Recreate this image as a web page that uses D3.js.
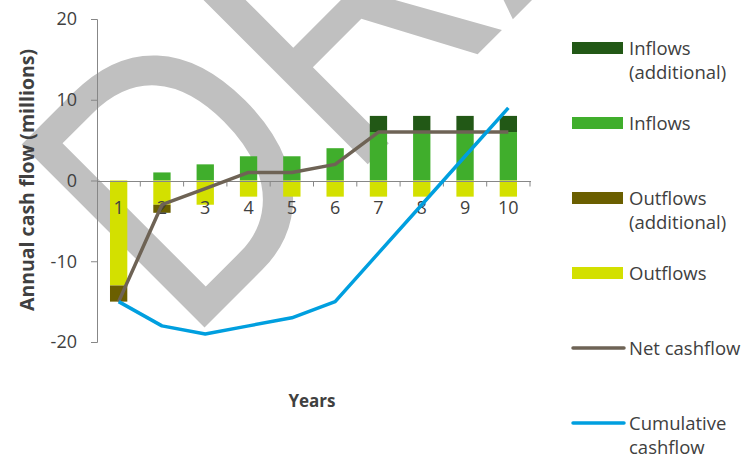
<!DOCTYPE html>
<html>
<head>
<meta charset="utf-8">
<script src="https://cdn.jsdelivr.net/npm/d3@7"></script>
<style>
  html, body { margin: 0; padding: 0; background: #fff; }
  svg { display: block; }
</style>
</head>
<body>
<div id="chart"></div>
<script>
// ---- Data ----
const years = [1, 2, 3, 4, 5, 6, 7, 8, 9, 10];
const inflows = [0, 1, 2, 3, 3, 4, 6, 6, 6, 6];
const inflowsAdditional = [0, 0, 0, 0, 0, 0, 2, 2, 2, 2];
const outflows = [-13, -3, -3, -2, -2, -2, -2, -2, -2, -2];
const outflowsAdditional = [-2, -1, 0, 0, 0, 0, 0, 0, 0, 0];
const netCashflow = [-15, -3, -1, 1, 1, 2, 6, 6, 6, 6];
const cumulativeCashflow = [-15, -18, -19, -18, -17, -15, -9, -3, 3, 9];
const yTicks = [-20, -10, 0, 10, 20];

const colors = {
  inflowsAdditional: "#225816",
  inflows: "#40ae2c",
  outflowsAdditional: "#6b5f00",
  outflows: "#d3e000",
  net: "#6e6355",
  cumulative: "#009fdf"
};

const W = 744, H = 458;
const svg = d3.select("#chart").append("svg").attr("width", W).attr("height", H);
const FONT = "'Open Sans', sans-serif";
const textColor = "#404040";
const axisColor = "#878787";

// watermark
svg.append("text")
  .attr("transform", "translate(186,346) rotate(-45) scale(0.85,1)")
  .attr("font-family", "'Liberation Sans', Arial, sans-serif")
  .attr("font-size", 376)
  .attr("fill", "#c0c0c0")
  .text("DRAFT");

const x = d3.scaleBand().domain(years).range([97, 530]).paddingInner(0.6).paddingOuter(0.3);
const y = d3.scaleLinear().domain([-20, 20]).range([342, 19]);

// stacked data
const table = years.map((yr, i) => ({
  year: yr,
  inflows: inflows[i],
  inflowsAdditional: inflowsAdditional[i],
  outflows: outflows[i],
  outflowsAdditional: outflowsAdditional[i]
}));
const keys = ["inflows", "inflowsAdditional", "outflows", "outflowsAdditional"];
const stacked = d3.stack().keys(keys).offset(d3.stackOffsetDiverging)(table);

const barsG = svg.append("g");
stacked.forEach(s => {
  barsG.append("g").attr("fill", colors[s.key])
    .selectAll("rect").data(s.filter(d => d[1] - d[0] !== 0)).join("rect")
    .attr("x", d => x(d.data.year))
    .attr("width", x.bandwidth())
    .attr("y", d => y(Math.max(d[0], d[1])))
    .attr("height", d => Math.abs(y(d[0]) - y(d[1])));
});

// Y axis
const yAxis = d3.axisLeft(y).tickValues(yTicks).tickSize(6).tickPadding(14).tickFormat(d3.format("d"));
const yg = svg.append("g").attr("transform", "translate(97,0)").call(yAxis);
yg.select(".domain").attr("stroke", axisColor).attr("d", "M-6,19.5H0.5V342.5H-6");
yg.selectAll(".tick line").attr("stroke", axisColor);
yg.selectAll(".tick text").attr("fill", textColor).attr("font-size", 18).attr("font-family", FONT)
  .text(d => d < 0 ? "-" + Math.abs(d) : d);

// X axis (at zero)
const xg = svg.append("g").attr("transform", `translate(0,${Math.round(y(0)) + 0.5})`);
xg.append("line").attr("x1", 97).attr("x2", 531).attr("stroke", axisColor);
const step = x.step();
xg.selectAll("line.tk").data(years).join("line").attr("class", "tk")
  .attr("x1", (d, i) => 97 + step * (i + 1)).attr("x2", (d, i) => 97 + step * (i + 1))
  .attr("y1", 0).attr("y2", 5).attr("stroke", axisColor);
xg.selectAll("text").data(years).join("text")
  .attr("x", d => x(d) + x.bandwidth() / 2)
  .attr("y", 32)
  .attr("text-anchor", "middle")
  .attr("font-family", FONT).attr("font-size", 18).attr("fill", textColor)
  .text(d => d);

// Lines
const lineGen = d3.line().x((d, i) => x(years[i]) + x.bandwidth() / 2).y(d => y(d));
svg.append("path").datum(netCashflow).attr("d", lineGen)
  .attr("fill", "none").attr("stroke", colors.net).attr("stroke-width", 3.5).attr("stroke-linejoin", "round");
svg.append("path").datum(cumulativeCashflow).attr("d", lineGen)
  .attr("fill", "none").attr("stroke", colors.cumulative).attr("stroke-width", 3.5).attr("stroke-linejoin", "round");

// Axis titles
svg.append("text")
  .attr("transform", "translate(34,180) rotate(-90)")
  .attr("text-anchor", "middle")
  .attr("font-family", FONT).attr("font-weight", "bold").attr("font-size", 19.5).attr("fill", textColor)
  .text("Annual cash flow (millions)");
svg.append("text")
  .attr("x", 312).attr("y", 407)
  .attr("text-anchor", "middle")
  .attr("font-family", FONT).attr("font-weight", "bold").attr("font-size", 17).attr("fill", textColor)
  .text("Years");

// Legend
const legendItems = [
  { key: "inflowsAdditional", type: "rect", lines: ["Inflows", "(additional)"] },
  { key: "inflows", type: "rect", lines: ["Inflows"] },
  { key: "outflowsAdditional", type: "rect", lines: ["Outflows", "(additional)"] },
  { key: "outflows", type: "rect", lines: ["Outflows"] },
  { key: "net", type: "line", lines: ["Net cashflow"] },
  { key: "cumulative", type: "line", lines: ["Cumulative", "cashflow"] }
];
const lg = svg.append("g");
legendItems.forEach((it, i) => {
  const cy = 48 + i * 75;
  if (it.type === "rect") {
    lg.append("rect").attr("x", 572).attr("y", cy - 6).attr("width", 51).attr("height", 12).attr("fill", colors[it.key]);
  } else {
    lg.append("line").attr("x1", 573).attr("x2", 624).attr("y1", cy).attr("y2", cy)
      .attr("stroke", colors[it.key]).attr("stroke-width", 3.5).attr("stroke-linecap", "round");
  }
  const t = lg.append("text").attr("font-family", FONT).attr("font-size", 18.5).attr("fill", textColor);
  it.lines.forEach((ln, j) => {
    t.append("tspan").attr("x", 629).attr("y", cy + 6.5 + j * 24).text(ln);
  });
});
</script>
</body>
</html>
